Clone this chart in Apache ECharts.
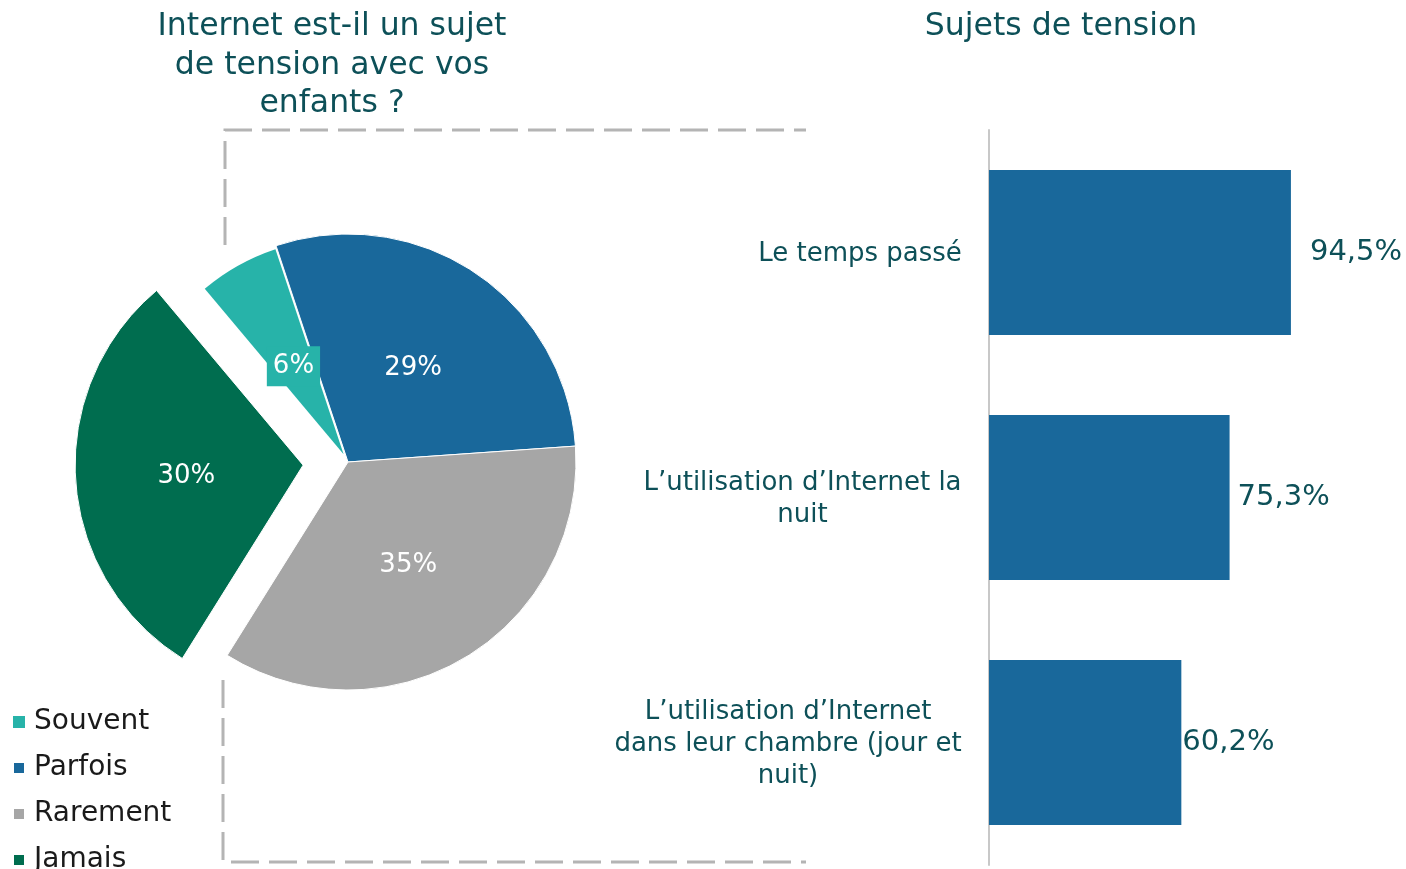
<!DOCTYPE html>
<html><head><meta charset="utf-8">
<script src="https://cdn.jsdelivr.net/npm/echarts@6/dist/echarts.min.js"></script>
<style>html,body{margin:0;padding:0;background:#fff}#c{width:1406px;height:869px}</style>
</head><body><div id="c"></div>
<script>
const pieTitle = 'Internet est-il un sujet\nde tension avec vos\nenfants ?';
const barTitle = 'Sujets de tension';
const pieNames = ['Souvent', 'Parfois', 'Rarement', 'Jamais'];
const pieValues = [6, 29, 35, 30];
const pieColors = ['#27b3a9', '#19689b', '#a6a6a6', '#006d4f'];
const barCategories = ['Le temps passé', 'L\u2019utilisation d\u2019Internet la\nnuit', 'L\u2019utilisation d\u2019Internet\ndans leur chambre (jour et\nnuit)'];
const barValues = [94.5, 75.3, 60.2];
const barLabelDistance = [19, 8, 1];

const FONT = "'DejaVu Sans', sans-serif";
const TEAL = '#0d5058';
const CAT_SIZE = 26;

const ctx = document.createElement('canvas').getContext('2d');
ctx.font = CAT_SIZE + 'px ' + FONT;
const rich = {};
barCategories.forEach((lab, i) => {
  const w = Math.max(...lab.split('\n').map(l => ctx.measureText(l).width));
  rich['c' + i] = { width: Math.ceil(w) + 2, align: 'center', fontSize: CAT_SIZE, lineHeight: 32, color: TEAL, fontFamily: FONT, padding: [4, 0, 0, 0] };
});

const chart = echarts.init(document.getElementById('c'));

const seriesA = {
  type: 'pie', center: [348, 462], radius: [0, 216], startAngle: 130, clockwise: true,
  selectedMode: 'single', selectedOffset: 9, avoidLabelOverlap: false, animation: false,
  emphasis: { disabled: true },
  labelLayout: { dx: 4, dy: 9 },
  data: [
    { name: pieNames[0], value: pieValues[0], selected: true,
      itemStyle: { color: pieColors[0] },
      label: { show: true, position: 'inside', color: '#fff', fontSize: 26, fontFamily: FONT,
        backgroundColor: pieColors[0], padding: [8, 6, 6, 6],
        formatter: p => p.value + '%' } },
    { name: '', value: 100 - pieValues[0], itemStyle: { color: 'rgba(0,0,0,0)' }, label: { show: false } }
  ],
  silent: true
};

const seriesB = {
  type: 'pie', center: [348, 462], radius: [0, 228], startAngle: 130, clockwise: true,
  selectedMode: 'multiple', selectedOffset: 45, avoidLabelOverlap: false, animation: false,
  emphasis: { disabled: true }, silent: true,
  itemStyle: { borderColor: '#fff', borderWidth: 1 },
  label: { show: true, position: 'inside', color: '#fff', fontSize: 26, fontFamily: FONT,
    formatter: p => p.value + '%' },
  labelLayout: { dy: 3 },
  labelLine: { show: false },
  data: pieNames.map((n, i) => {
    if (i === 0) return { name: n, value: pieValues[i], itemStyle: { color: 'rgba(0,0,0,0)', borderWidth: 0 }, label: { show: false } };
    return { name: n, value: pieValues[i], selected: n === 'Jamais', itemStyle: { color: pieColors[i] } };
  })
};

const option = {
  backgroundColor: '#fff',
  animation: false,
  title: [
    { text: pieTitle, left: 327, top: 3, textAlign: 'center',
      textStyle: { color: TEAL, fontSize: 31.5, fontWeight: 'normal', fontFamily: FONT, lineHeight: 38.5 } },
    { text: barTitle, left: 1056, top: 3, textAlign: 'center',
      textStyle: { color: TEAL, fontSize: 31.5, fontWeight: 'normal', fontFamily: FONT, lineHeight: 38.5 } }
  ],
  legend: {
    orient: 'vertical', left: 7, top: 702, height: 220, itemWidth: 12, itemHeight: 12, itemGap: 16,
    icon: 'rect', selectedMode: false,
    data: pieNames,
    textStyle: { color: '#1a1a1a', fontSize: 28, fontFamily: FONT, lineHeight: 30, padding: [0, 0, 0, 4] }
  },
  grid: { left: 989, top: 130, width: 319.5, height: 735 },
  xAxis: { type: 'value', min: 0, max: 100, show: false },
  yAxis: {
    type: 'category', inverse: true, data: barCategories,
    axisLine: { show: true, lineStyle: { color: '#c8c8c8', width: 2 } },
    axisTick: { show: false },
    axisLabel: { align: 'right', margin: 26, formatter: (v, i) => v.split('\n').map(l => '{c' + i + '|' + l + '}').join('\n'), rich: rich }
  },
  series: [
    seriesA, seriesB,
    { type: 'bar', barWidth: 165, silent: true,
      itemStyle: { color: '#19689b' },
      data: barValues.map((v, i) => ({ value: v, label: { distance: barLabelDistance[i] } })),
      label: { show: true, position: 'right', color: TEAL, fontSize: 29, fontFamily: FONT,
        formatter: p => String(p.value).replace('.', ',') + '%' } }
  ],
  graphic: [
    { type: 'polyline', z: -1, shape: { points: [[225, 245], [225, 130], [806, 130]] },
      style: { stroke: '#b4b4b4', lineWidth: 3, fill: null, lineDash: [28, 10] } },
    { type: 'polyline', z: -1, shape: { points: [[223, 680], [223, 862], [806, 862]] },
      style: { stroke: '#b4b4b4', lineWidth: 3, fill: null, lineDash: [28, 10] } }
  ]
};
chart.setOption(option);
</script></body></html>
